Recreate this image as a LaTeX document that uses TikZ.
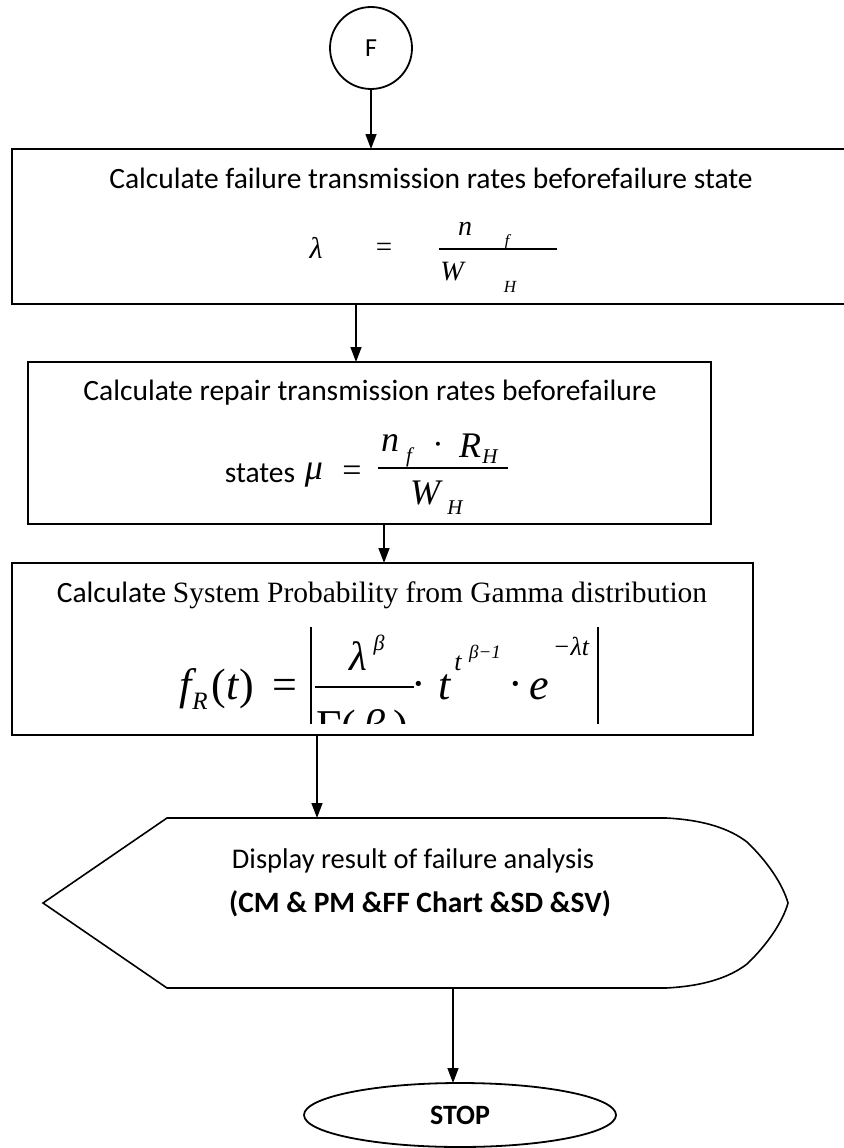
\documentclass[tikz,border=0pt]{standalone}
\usepackage{fontspec}
\setmainfont{Carlito}
\newfontfamily\tms{Liberation Serif}
\usetikzlibrary{arrows.meta,shapes.geometric}
\begin{document}
\begin{tikzpicture}[x=1pt,y=-1pt,
  box/.style={draw,line width=1.8pt,inner sep=0pt,outer sep=0pt},
  lbl/.style={inner sep=0pt,outer sep=0pt,anchor=base,font=\fontsize{29.5}{34}\selectfont},
  fm/.style={inner sep=0pt,outer sep=0pt,anchor=base,font={\tms\itshape\fontsize{#1}{#1}\selectfont}},
  fu/.style={inner sep=0pt,outer sep=0pt,anchor=base,font={\tms\fontsize{#1}{#1}\selectfont}},
  arr/.style={line width=1.4pt,-{Triangle[length=15pt,width=11pt]}},
  fbar/.style={line width=1.5pt}]
\useasboundingbox (0,0) rectangle (843,1148);

% shapes
\node[box,circle,minimum size=82pt,font=\fontsize{26}{30}\selectfont] (F) at (371,48) {F};
\node[box,minimum width=833pt,minimum height=155pt] (b1) at (428.5,226.5) {};
\node[box,minimum width=683pt,minimum height=162pt] (b2) at (369.5,443) {};
\node[box,minimum width=741pt,minimum height=172pt] (b3) at (382.5,649) {};
\node[box,ellipse,minimum width=312pt,minimum height=64pt,font=\bfseries\fontsize{28}{32}\selectfont] (stop) at (460,1115) {STOP};
\draw[line width=1.6pt] (167,818) -- (666,818)
  .. controls (705,820) and (730,829) .. (747,842)
  .. controls (768,862) and (783,885) .. (788,903)
  .. controls (783,921) and (768,944) .. (747,964)
  .. controls (730,977) and (705,986) .. (666,988)
  -- (167,988) -- (43,903) -- cycle;
\coordinate (dtop) at (317,818);
\coordinate (dbot) at (453,988);

% connectors
\coordinate (a2) at (356,0);
\coordinate (a3) at (384,0);
\coordinate (a4) at (317,0);
\draw[arr] (F) -- (F.south |- b1.north);
\draw[arr] (a2 |- b1.south) -- (a2 |- b2.north);
\draw[arr] (a3 |- b2.south) -- (a3 |- b3.north);
\draw[arr] (a4 |- b3.south) -- (dtop);
\draw[arr] (dbot) -- (dbot |- stop.north);

% texts
\node[lbl] (t1) at (431,188) {Calculate failure transmission rates beforefailure state};
\node[lbl] (t2) at (370,400) {Calculate repair transmission rates beforefailure};
\node[lbl] (t2b) at (260,482) {states};
\node[lbl] (t3) at (382,602) {Calculate {\tms System Probability from Gamma distribution}};
\node[lbl,font=\fontsize{28.5}{32}\selectfont] (d1) at (413,868) {Display result of failure analysis};
\node[lbl,font=\bfseries\fontsize{29.5}{33}\selectfont] (d2) at (420,912) {(CM \& PM \&FF Chart \&SD \&SV)};

% formula 1
\node[fm=30] (l1) at (316,258) {λ};
\node[fu=29] (e1) at (384,256) {=};
\node[fm=28] (n1) at (465,235) {n};
\node[fm=17] (f1) at (507,246) {f};
\node[fm=28] (w1) at (452,280) {W};
\node[fm=17] (h1) at (510,292) {H};
\draw[fbar] (439,249) -- (557,249);

% formula 2
\node[fm=36] (mu) at (314,479) {μ};
\node[fu=34] (e2) at (352,481) {=};
\node[fm=36] (n2) at (390,451) {n};
\node[fm=21] (f2) at (409,462) {f};
\node[fu=34] (d2a) at (438,455) {·};
\node[fm=36] (r2) at (470,457) {R};
\node[fm=21] (h2) at (490,463) {H};
\node[fm=36] (w2) at (425,504) {W};
\node[fm=21] (h2b) at (455,514) {H};
\draw[fbar] (378,468) -- (508,468);

% formula 3 (cut off at the bottom)
\begin{scope}
\clip (12,563) rectangle (753,723);
\node[fm=44] (f3) at (186,699) {f};
\node[fm=25] (r3) at (200,709) {R};
\node[fu=44] (p3) at (233,699) {(\textit{t})};
\node[fu=44] (e3) at (285,699) {=};
\draw[fbar] (311,627) -- (311,740);
\draw[fbar] (598,627) -- (598,740);
\draw[fbar] (315,687) -- (414,687);
\node[fm=41] (l3) at (358,670) {λ};
\node[fm=22] (b3s) at (379,650) {β};
\node[fu=44] (g3) at (362,740) {Γ(\,\textit{β}\,)};
\node[fu=44] (c3a) at (419,698) {·};
\node[fm=44] (t3a) at (445,699) {t};
\node[fm=26] (t3b) at (458,670) {t};
\node[fm=19] (t3c) at (485,658) {β−1};
\node[fu=44] (c3b) at (516,698) {·};
\node[fm=44] (e3a) at (539,699) {e};
\node[fm=26] (e3b) at (571,655) {−λt};
\end{scope}
\end{tikzpicture}
\end{document}
